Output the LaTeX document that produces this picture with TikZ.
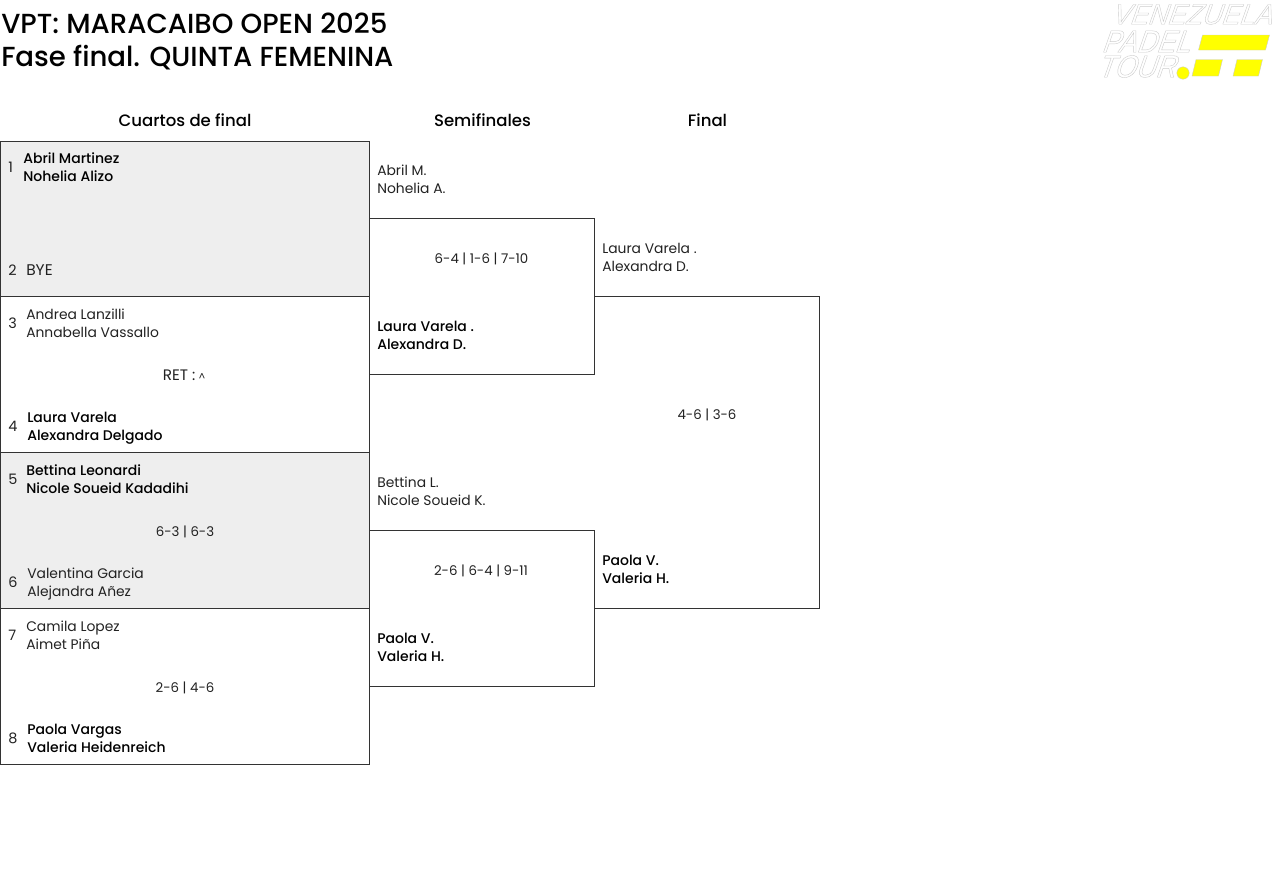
\documentclass[tikz,border=0pt]{standalone}
\usepackage{fontspec}
\setmainfont{Poppins}[BoldFont={Poppins Medium}]
\newfontfamily\logofont{Liberation Sans}[FakeStretch=0.88,FakeSlant=0.35]
\newfontfamily\logowide{Liberation Sans}[FakeStretch=0.94,FakeSlant=0.35]
\usetikzlibrary{positioning}
\definecolor{shade}{HTML}{EEEEEE}
\definecolor{rule}{HTML}{333333}
\definecolor{ink}{HTML}{222222}
\definecolor{logoyellow}{HTML}{FFFF00}
\newcommand{\logoword}[1]{\special{pdf:code 2 Tr 0.3 w 0.8 G 1 g}#1\special{pdf:code 0 Tr}}
\tikzset{
    match/.style={inner sep=0pt, outer sep=0pt, anchor=north west},
    qbox/.style={match, draw=rule, line width=0.75pt, minimum width=276.75pt, minimum height=117pt},
    bracket/.style={draw=rule, line width=0.75pt},
    names/.style={text=ink, font=\fontsize{10.4}{13.5}\selectfont, align=left, inner sep=0pt, anchor=west,
        yshift=-2.1pt, execute at begin node=\strut, execute at end node=\strut},
    winner/.style={names, text=black, font=\fontsize{10.5}{13.5}\selectfont\bfseries},
    seed/.style={names, font=\fontsize{10.8}{13.5}\selectfont, yshift=0.7pt},
    score/.style={names, anchor=center, align=center, font=\fontsize{10}{13.5}\selectfont, yshift=0.6pt},
    round/.style={font=\fontsize{12.4}{16}\selectfont\bfseries, text=black, inner sep=0pt},
    heading/.style={font=\fontsize{20.7}{24.75}\selectfont\bfseries, text=black, align=left, inner sep=0pt, anchor=west},
    logotext/.style={text=white, inner sep=0pt, anchor=west},
    logobar/.style={fill=logoyellow, draw=black!20, line width=0.3pt}
}
\begin{document}
\begin{tikzpicture}[x=0.75pt,y=-0.75pt]
    \useasboundingbox (0,0) rectangle (1280,883);

    % Title
    \node[heading] (title) at (1,41.5) {VPT: MARACAIBO OPEN 2025\\Fase final. QUINTA FEMENINA};

    % Logo
    \filldraw[logobar] (1202.5,35) -- (1269.5,35) -- (1265.5,50) -- (1198.5,50) -- cycle;
    \filldraw[logobar] (1196,59.5) -- (1222.5,59.5) -- (1218.5,76) -- (1192,76) -- cycle;
    \filldraw[logobar] (1237,59.5) -- (1262.5,59.5) -- (1258.5,76) -- (1233,76) -- cycle;
    \filldraw[logobar] (1183,73) circle (6.2);
    \node[logotext, font=\fontsize{21.5}{21.5}\logowide] (logoa) at (1111,14.5) {\logoword{VENEZUELA}};
    \node[logotext, font=\fontsize{23.5}{23.5}\logofont] (logob) at (1101,41.5) {\logoword{PADEL}};
    \node[logotext, font=\fontsize{23.5}{23.5}\logofont] (logoc) at (1097,66.5) {\logoword{TOUR}};

    % Round labels
    \node[round] (quarters) at (185,120) {Cuartos de final};
    \node[round] (semis) at (482.5,120) {Semifinales};
    \node[round] (final) at (707.5,120) {Final};

    % Quarter final boxes
    \node[qbox, fill=shade, minimum height=116.25pt] (qa) at (0.5,141) {};
    \node[qbox] (qb) at (0.5,296.5) {};
    \node[qbox, fill=shade] (qc) at (0.5,452.5) {};
    \node[qbox] (qd) at (0.5,608.5) {};

    % Semifinal and final boxes, open on the left
    \node[match, minimum width=168.75pt, minimum height=117pt] (sa) at (369.5,218.5) {};
    \node[match, minimum width=168.75pt, minimum height=117pt] (sb) at (369.5,530.5) {};
    \node[match, minimum width=168.75pt, minimum height=234pt] (fa) at (594.5,296.5) {};
    \draw[bracket] (sa.north west) -- (sa.north east) -- (sa.south east) -- (sa.south west);
    \draw[bracket] (sb.north west) -- (sb.north east) -- (sb.south east) -- (sb.south west);
    \draw[bracket] (fa.north west) -- (fa.north east) -- (fa.south east) -- (fa.south west);

    % Seeds
    \foreach \seedno/\ypos in {1/167, 2/270, 3/323, 4/426, 5/479, 6/582, 7/635, 8/738}
        \node[seed] (seed\seedno) at (8,\ypos) {\seedno};

    % Quarter final pairs
    \node[winner] (pa) at (23,167) {Abril Martinez\\Nohelia Alizo};
    \node[names, font=\fontsize{11.6}{13.5}\selectfont, yshift=0.6pt] (pb) at (26,270) {BYE};
    \node[names] (pc) at (26,323) {Andrea Lanzilli\\Annabella Vassallo};
    \node[winner] (pd) at (27,426) {Laura Varela\\Alexandra Delgado};
    \node[winner] (pe) at (26,479) {Bettina Leonardi\\Nicole Soueid Kadadihi};
    \node[names] (pf) at (27,582) {Valentina Garcia\\Alejandra Añez};
    \node[names] (pg) at (26,635) {Camila Lopez\\Aimet Piña};
    \node[winner] (ph) at (27,738) {Paola Vargas\\Valeria Heidenreich};

    % Semifinal pairs
    \node[names] (sna) at (377,179) {Abril M.\\Nohelia A.};
    \node[winner] (snb) at (377,335) {Laura Varela .\\Alexandra D.};
    \node[names] (snc) at (377,491) {Bettina L.\\Nicole Soueid K.};
    \node[winner] (snd) at (377,647) {Paola V.\\Valeria H.};

    % Final pairs
    \node[names] (fna) at (602,257) {Laura Varela .\\Alexandra D.};
    \node[winner] (fnb) at (602,569) {Paola V.\\Valeria H.};

    % Scores
    \node[score] (ra) at (184,375) {{\fontsize{11.4}{13.5}\selectfont RET :} {\fontsize{7.5}{9}\selectfont\textasciicircum}};
    \node[score] (rb) at (185,531) {6-3 | 6-3};
    \node[score] (rc) at (185,687) {2-6 | 4-6};
    \node[score] (rd) at (481.5,258) {6-4 | 1-6 | 7-10};
    \node[score] (re) at (481,570) {2-6 | 6-4 | 9-11};
    \node[score] (rf) at (707,414) {4-6 | 3-6};

\end{tikzpicture}
\end{document}
